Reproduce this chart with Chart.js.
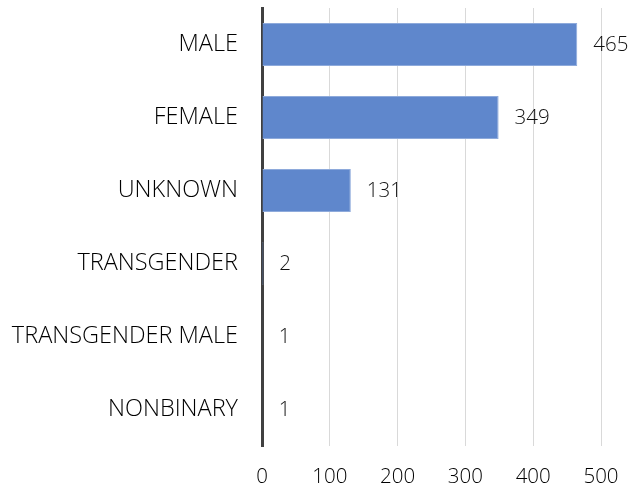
<!DOCTYPE html>
<html>
<head>
<meta charset="utf-8">
<script src="https://cdn.jsdelivr.net/npm/chart.js@4"></script>
<style>
  html, body { margin: 0; padding: 0; background: #fff; }
  #box { width: 629px; height: 491px; }
</style>
</head>
<body>
<div id="box"><canvas id="c"></canvas></div>
<script>
const categories = ["MALE", "FEMALE", "UNKNOWN", "TRANSGENDER", "TRANSGENDER MALE", "NONBINARY"];
const counts = [465, 349, 131, 2, 1, 1];
const xTicks = [0, 100, 200, 300, 400, 500];

const FONT = "'Open Sans', 'Noto Sans', sans-serif";

// value labels next to each bar
const barLabels = {
  id: "barLabels",
  afterDatasetsDraw(chart) {
    const ctx = chart.ctx;
    const meta = chart.getDatasetMeta(0);
    ctx.save();
    ctx.font = "300 20.5px " + FONT;
    ctx.fillStyle = "#111111";
    ctx.textAlign = "left";
    ctx.textBaseline = "middle";
    meta.data.forEach((bar, i) => {
      ctx.fillText(String(counts[i]), bar.x + 16, bar.y + 1);
    });
    ctx.restore();
  }
};

new Chart(document.getElementById("c"), {
  type: "bar",
  data: {
    labels: categories,
    datasets: [{
      data: counts,
      backgroundColor: "#5F87CC",
      borderColor: "#8EAADB",
      borderWidth: 1,
      categoryPercentage: 1,
      barPercentage: 0.59
    }]
  },
  options: {
    indexAxis: "y",
    responsive: true,
    maintainAspectRatio: false,
    animation: false,
    layout: { padding: { top: 8, right: 28, bottom: 0, left: 0 } },
    plugins: { legend: { display: false }, tooltip: { enabled: false } },
    scales: {
      x: {
        min: 0,
        max: 500,
        afterBuildTicks(scale) { scale.ticks = xTicks.map(v => ({ value: v })); },
        afterFit(scale) {
          scale.height = 45;
          scale.paddingLeft = 0;
          scale.paddingRight = 0;
        },
        grid: { color: "#d9d9d9", lineWidth: 1, drawTicks: false },
        border: { display: false },
        ticks: { color: "#000000", font: { family: FONT, size: 20.5, weight: 300 }, padding: 19 }
      },
      y: {
        afterFit(scale) {
          scale.width = 262;
          scale.paddingTop = 0;
          scale.paddingBottom = 0;
        },
        grid: { display: false, drawTicks: false },
        border: { color: "#404040", width: 3 },
        ticks: { color: "#000000", font: { family: FONT, size: 23.5, weight: 300 }, padding: 24 }
      }
    }
  },
  plugins: [barLabels]
});
</script>
</body>
</html>
